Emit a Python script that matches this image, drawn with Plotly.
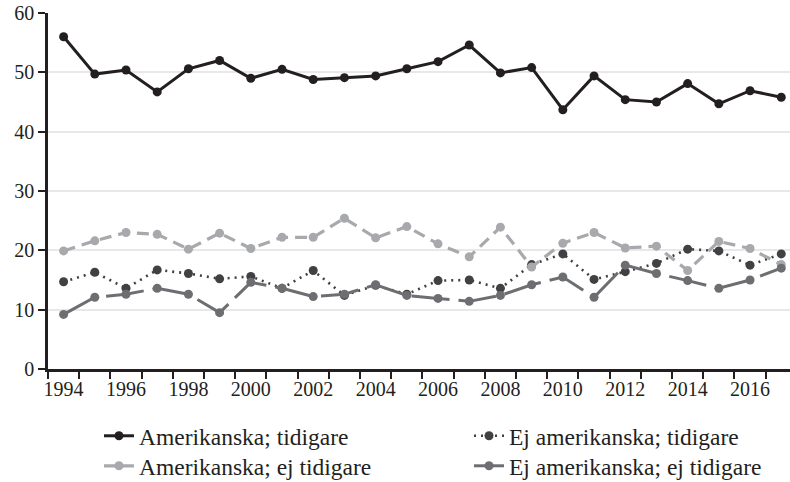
import plotly.graph_objects as go

years = list(range(1994, 2018))

amer_tidigare = [56.0, 49.7, 50.4, 46.7, 50.6, 52.0, 49.0, 50.5, 48.8, 49.1, 49.4, 50.6, 51.8,
                 54.6, 49.9, 50.8, 43.7, 49.4, 45.4, 45.0, 48.1, 44.7, 46.9, 45.8]
amer_ej_tidigare = [19.9, 21.6, 23.0, 22.7, 20.2, 22.9, 20.3, 22.2, 22.2, 25.4, 22.1, 24.0, 21.1,
                    18.9, 23.9, 17.2, 21.2, 23.0, 20.4, 20.7, 16.6, 21.5, 20.3, 17.6]
ej_amer_tidigare = [14.7, 16.3, 13.6, 16.7, 16.1, 15.2, 15.6, 13.6, 16.6, 12.4, 14.1, 12.6, 14.9,
                    15.0, 13.6, 17.6, 19.4, 15.1, 16.4, 17.8, 20.2, 19.9, 17.5, 19.4]
ej_amer_ej_tidigare = [9.2, 12.1, 12.6, 13.6, 12.6, 9.5, 14.6, 13.6, 12.2, 12.6, 14.2, 12.4, 11.9,
                       11.4, 12.4, 14.2, 15.5, 12.1, 17.5, 16.1, 14.9, 13.6, 15.0, 17.0]

names = ["Amerikanska; tidigare", "Ej amerikanska; tidigare",
         "Amerikanska; ej tidigare", "Ej amerikanska; ej tidigare"]
series = [amer_tidigare, ej_amer_tidigare, amer_ej_tidigare, ej_amer_ej_tidigare]
colors = ["#231f20", "#414042", "#a7a9ac", "#6d6e71"]
dashes = ["solid", "2px,5px", "12px,7px", "38px,9px"]
widths = [3, 2.6, 3.2, 3]
legend_ids = ["legend", "legend2", "legend3", "legend4"]

y_ticks = [0, 10, 20, 30, 40, 50, 60]
x_ticks = list(range(1994, 2017, 2))

FONT = "Liberation Serif"
INK = "#231f20"

fig = go.Figure()
for name, vals, c, d, w, lg in zip(names, series, colors, dashes, widths, legend_ids):
    fig.add_trace(go.Scatter(
        x=years, y=vals, name=name, mode="lines+markers",
        line=dict(color=c, width=w, dash=d),
        marker=dict(color=c, size=9),
        legend=lg,
    ))

legend_common = dict(
    orientation="v", xanchor="left", yanchor="top",
    font=dict(family=FONT, size=23.5, color=INK),
    tracegroupgap=0, itemwidth=30, bgcolor="rgba(0,0,0,0)",
)
col_x = [0.0687, 0.5674]
row_y = [-0.1264, -0.2107]

fig.update_layout(
    width=790, height=482,
    margin=dict(l=48, r=0, t=13, b=113, autoexpand=False),
    paper_bgcolor="white", plot_bgcolor="white",
    font=dict(family=FONT, size=20, color=INK),
    showlegend=True,
    legend=dict(x=col_x[0], y=row_y[0], **legend_common),
    legend2=dict(x=col_x[1], y=row_y[0], **legend_common),
    legend3=dict(x=col_x[0], y=row_y[1], **legend_common),
    legend4=dict(x=col_x[1], y=row_y[1], **legend_common),
    xaxis=dict(
        range=[1993.5, 2017.28],
        tickmode="array", tickvals=x_ticks, ticktext=[str(v) for v in x_ticks],
        ticks="", showgrid=False, zeroline=False,
        showline=True, linecolor=INK, linewidth=2.5,
        tickfont=dict(family=FONT, size=20, color=INK),
        ticklabeloverflow="allow",
        minor=dict(tick0=1993.5, dtick=1, ticks="outside", ticklen=7,
                   tickwidth=1.5, tickcolor=INK, showgrid=False),
    ),
    yaxis=dict(
        range=[0, 60], tickmode="array", tickvals=y_ticks,
        ticks="outside", ticklen=7, tickwidth=1.5, tickcolor=INK,
        showgrid=True, gridcolor="#e8e8e8", gridwidth=1.5,
        zeroline=False, showline=True, linecolor=INK, linewidth=2.5,
        tickfont=dict(family=FONT, size=20, color=INK),
        ticklabeloverflow="allow",
    ),
)

fig.write_html("out.html",
               config={"displayModeBar": False},
               post_script="document.body.style.margin='0';document.body.style.overflow='hidden';")
